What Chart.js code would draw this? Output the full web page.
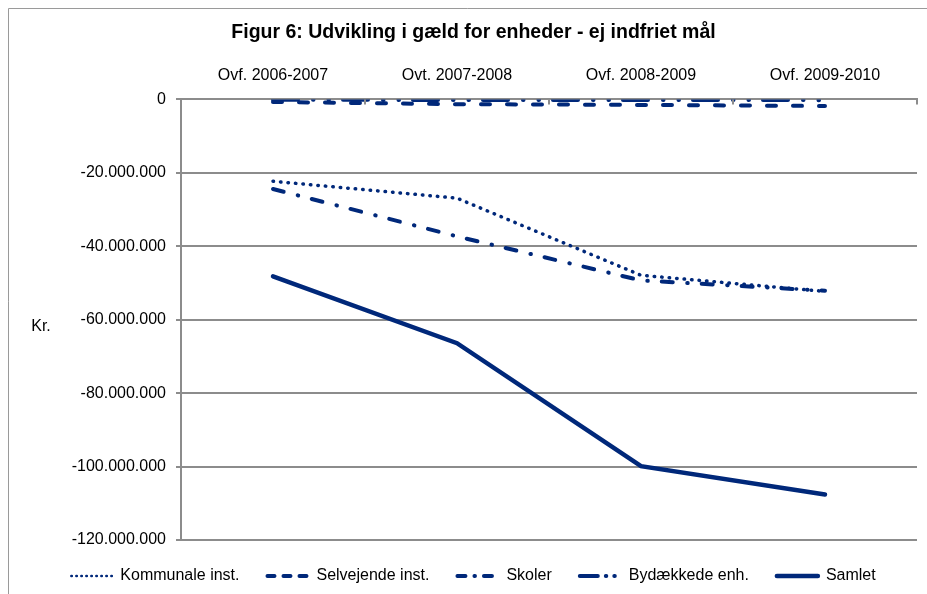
<!DOCTYPE html>
<html>
<head>
<meta charset="utf-8">
<script src="https://cdn.jsdelivr.net/npm/chart.js@4.4.1/dist/chart.umd.min.js"></script>
<style>
    body { margin: 0; background: #fff; }
</style>
</head>
<body>
<canvas id="myChart" width="927" height="594"></canvas>
<script>
// Kategorier (vises oven over grafen)
var kategorier = ['Ovf. 2006-2007', 'Ovt. 2007-2008', 'Ovf. 2008-2009', 'Ovf. 2009-2010'];

// Gæld i kr. pr. serie
var kommunale = [-22300000, -26900000, -47900000, -52300000];
var selvejende = [-700000, -1300000, -1500000, -1800000];
var skoler = [-24400000, -37300000, -49300000, -52100000];
var bydaekkede = [-100000, -150000, -150000, -200000];
var samlet = [-48200000, -66400000, -99900000, -107600000];

var farve = '#00287a';
var fontFamilie = '"Liberation Sans", Arial, sans-serif';

// Kortere streger i forklaringen (som i Excel)
var legendStreg = [[0.5, 4.5], [7, 9], [8, 9, 0.5, 9], [18, 8, 0.5, 8, 0.5, 8], []];

// Tal med punktum som tusindtalsseparator
function kr(v) {
    if (v === 0) return '0';
    var s = Math.abs(v).toFixed(0).replace(/\B(?=(\d{3})+(?!\d))/g, '.');
    return (v < 0 ? '-' : '') + s;
}

// Ramme, "Kr." og små streger ved kategorigrænser
var rammePlugin = {
    id: 'ramme',
    afterDraw: function(chart) {
        var ctx = chart.ctx;
        var x = chart.scales.x;
        var a = chart.chartArea;
        ctx.save();
        ctx.strokeStyle = '#9a9a9a';
        ctx.lineWidth = 1;
        ctx.beginPath();
        ctx.moveTo(8.5, 594);
        ctx.lineTo(8.5, 8.5);
        ctx.lineTo(927, 8.5);
        ctx.stroke();

        ctx.strokeStyle = '#8c8c8c';
        ctx.lineWidth = 2;
        for (var i = 0; i <= kategorier.length; i++) {
            var px = x.getPixelForValue(i - 0.5);
            ctx.beginPath();
            ctx.moveTo(px, a.top);
            ctx.lineTo(px, a.top + 5);
            ctx.stroke();
        }

        ctx.fillStyle = '#000';
        ctx.font = '16px ' + fontFamilie;
        ctx.textAlign = 'center';
        ctx.textBaseline = 'middle';
        ctx.fillText('Kr.', 41, 327);
        ctx.restore();
    }
};

Chart.defaults.color = '#000';
Chart.defaults.font.family = fontFamilie;

var ctx = document.getElementById('myChart').getContext('2d');
var myChart = new Chart(ctx, {
    type: 'line',
    data: {
        labels: kategorier,
        datasets: [{
            label: 'Kommunale inst.',
            data: kommunale,
            borderColor: farve,
            borderWidth: 3.5,
            borderCapStyle: 'round',
            borderDash: [0.5, 7]
        }, {
            label: 'Selvejende inst.',
            data: selvejende,
            borderColor: farve,
            borderWidth: 4,
            borderCapStyle: 'round',
            borderDash: [9, 17]
        }, {
            label: 'Skoler',
            data: skoler,
            borderColor: farve,
            borderWidth: 4,
            borderCapStyle: 'round',
            borderDash: [11, 14.5, 0.5, 14]
        }, {
            label: 'Bydækkede enh.',
            data: bydaekkede,
            borderColor: farve,
            borderWidth: 4,
            borderCapStyle: 'round',
            borderDash: [25, 15, 0.5, 15, 0.5, 14]
        }, {
            label: 'Samlet',
            data: samlet,
            borderColor: farve,
            borderWidth: 4.5,
            borderCapStyle: 'round'
        }]
    },
    options: {
        responsive: false,
        animation: false,
        devicePixelRatio: 1,
        layout: {
            padding: { left: 30, right: 10, top: 10, bottom: 0 }
        },
        elements: {
            point: { radius: 0 },
            line: { tension: 0, fill: false }
        },
        plugins: {
            title: {
                display: true,
                text: 'Figur 6: Udvikling i gæld for enheder - ej indfriet mål',
                font: { size: 19.5, weight: 'bold' },
                padding: { top: 11, bottom: 5 }
            },
            legend: {
                position: 'bottom',
                labels: {
                    usePointStyle: true,
                    pointStyle: 'line',
                    pointStyleWidth: 41,
                    padding: 28,
                    font: { size: 16 },
                    generateLabels: function(chart) {
                        var items = Chart.defaults.plugins.legend.labels.generateLabels(chart);
                        items.forEach(function(it) {
                            var ds = chart.data.datasets[it.datasetIndex];
                            it.lineDash = legendStreg[it.datasetIndex];
                            it.lineCap = ds.borderCapStyle;
                            it.lineWidth = it.datasetIndex === 0 ? 2.5 : ds.borderWidth;
                            it.strokeStyle = ds.borderColor;
                            it.pointStyle = 'line';
                        });
                        return items;
                    }
                }
            },
            tooltip: { enabled: false }
        },
        scales: {
            x: {
                position: 'top',
                offset: true,
                grid: { drawOnChartArea: false, drawTicks: false, offset: true },
                border: { color: '#8c8c8c', width: 2 },
                ticks: { padding: 14, font: { size: 16 } },
                afterFit: function(scale) { scale.height = 50; }
            },
            y: {
                min: -120000000,
                max: 0,
                grid: { color: '#8c8c8c', lineWidth: 2, tickLength: 5 },
                border: { color: '#8c8c8c', width: 2 },
                ticks: {
                    stepSize: 20000000,
                    padding: 10,
                    font: { size: 16 },
                    callback: function(v) { return kr(v); }
                },
                afterFit: function(scale) { scale.width = 151; }
            }
        }
    },
    plugins: [rammePlugin]
});
</script>
</body>
</html>
